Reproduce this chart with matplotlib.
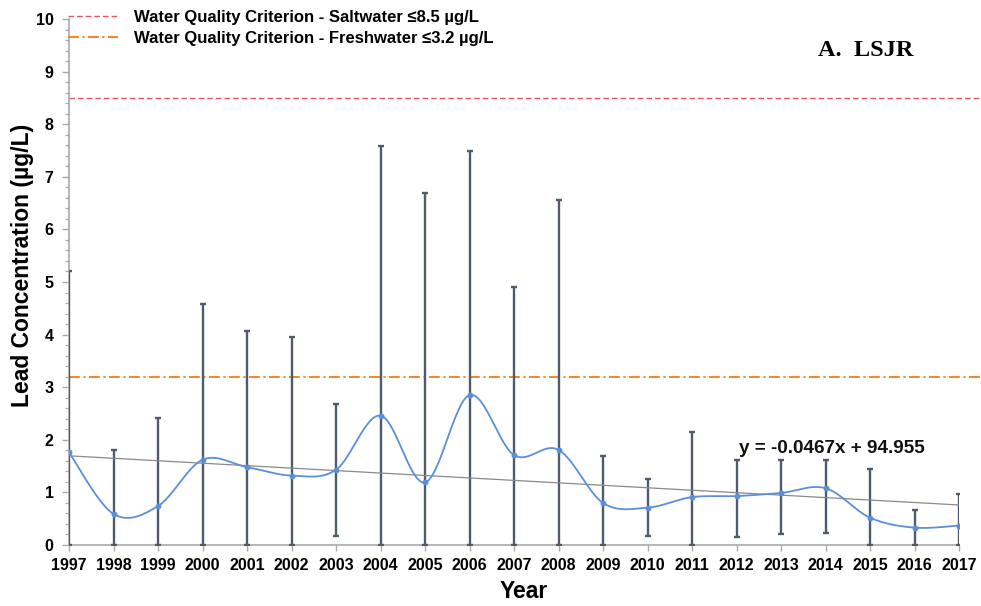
import numpy as np
import matplotlib
matplotlib.use("Agg")
import matplotlib.pyplot as plt
from matplotlib.ticker import MultipleLocator

plt.rcParams['font.family'] = ['Liberation Sans', 'DejaVu Sans']

# Annual mean lead concentration (µg/L) with min/max range
years = list(range(1997, 2018))
mean_pb = [1.76, 0.59, 0.74, 1.62, 1.48, 1.32, 1.43, 2.46, 1.19, 2.85, 1.71,
           1.81, 0.80, 0.71, 0.91, 0.93, 0.99, 1.08, 0.52, 0.33, 0.37]
low_pb = [0.0, 0.0, 0.0, 0.0, 0.0, 0.0, 0.165, 0.0, 0.0, 0.0, 0.0,
          0.0, 0.0, 0.17, 0.0, 0.15, 0.21, 0.22, 0.0, 0.0, 0.0]
high_pb = [5.2, 1.80, 2.42, 4.58, 4.07, 3.96, 2.69, 7.58, 6.69, 7.50, 4.90,
           6.56, 1.69, 1.26, 2.14, 1.62, 1.62, 1.62, 1.44, 0.66, 0.975]

# Linear trend reported for the series
trend_slope = -0.0467
trend_intercept = 94.955
trend_label = "y = -0.0467x + 94.955"

# Water quality criteria (µg/L)
saltwater_limit = 8.5
freshwater_limit = 3.2
saltwater_label = "Water Quality Criterion - Saltwater \u22648.5 \u00b5g/L"
freshwater_label = "Water Quality Criterion - Freshwater \u22643.2 \u00b5g/L"
panel_title = "A.  LSJR"


def smooth_curve(x, y, n=30):
    """Cardinal (Catmull-Rom) spline through the points, like a smoothed line chart."""
    x = np.asarray(x, float)
    y = np.asarray(y, float)
    px = np.concatenate([[x[0]], x, [x[-1]]])
    py = np.concatenate([[y[0]], y, [y[-1]]])
    xs, ys = [], []
    t = np.linspace(0, 1, n)
    for i in range(1, len(px) - 2):
        p0, p1, p2, p3 = (np.array([px[j], py[j]]) for j in (i - 1, i, i + 1, i + 2))
        c1 = p1 + (p2 - p0) / 6.0
        c2 = p2 - (p3 - p1) / 6.0
        b = ((1 - t) ** 3)[:, None] * p1 + (3 * (1 - t) ** 2 * t)[:, None] * c1 \
            + (3 * (1 - t) * t ** 2)[:, None] * c2 + (t ** 3)[:, None] * p2
        xs.append(b[:, 0])
        ys.append(b[:, 1])
    return np.concatenate(xs), np.concatenate(ys)


fig = plt.figure(figsize=(9.81, 6.06), dpi=100)
ax = fig.add_axes([69 / 981, 1 - 545 / 606, (959 - 69) / 981, (545 - 19) / 606])

yrs = np.array(years, float)
mean_arr = np.array(mean_pb)
yerr = np.vstack([mean_arr - np.array(low_pb), np.array(high_pb) - mean_arr])

# Range bars (drawn above the spines so the first one shows on the axis)
ax.errorbar(yrs, mean_arr, yerr=yerr, fmt='none', ecolor='#4f5b6b',
            elinewidth=1.7, capsize=2, capthick=1.7, zorder=3)

# Trend line
tx = np.array([years[0], years[-1]], float)
ax.plot(tx, trend_slope * tx + trend_intercept, color='#8a8a8a', lw=0.9, zorder=3.2)

# Smoothed mean line with markers
sx, sy = smooth_curve(yrs, mean_arr)
ax.plot(sx, sy, color='#5b8fd8', lw=1.3, zorder=4)
ax.plot(yrs, mean_arr, 'o', color='#5b8fd8', ms=3.2, zorder=5)

# Criterion lines
ax.axhline(saltwater_limit, xmin=0, xmax=1.025, color='#e4585d', lw=1.0,
           dashes=(4, 2.2), clip_on=False, label=saltwater_label, zorder=1)
ax.axhline(freshwater_limit, xmin=0, xmax=1.025, color='#f08a2c', lw=1.5,
           dashes=(5.2, 1.7, 1.0, 1.7), clip_on=False, label=freshwater_label, zorder=1)

ax.text(yrs[0] + 15.05, 1.84, trend_label, fontsize=13.6, fontweight='bold',
        va='center', ha='left', color='#111111')

fig.text(913 / 981, 1 - 51 / 606, panel_title, fontsize=17.5, fontweight='bold',
         family=['Liberation Serif', 'DejaVu Serif'], ha='right', va='center')

leg = ax.legend(loc='upper left', bbox_to_anchor=(56 / 981, 1 + 2 / 606),
                bbox_transform=fig.transFigure, frameon=False,
                prop={'weight': 'bold', 'size': 12}, handlelength=3.05,
                handletextpad=0.95, labelspacing=0.35, borderpad=0.2)

ax.set_xlim(years[0], years[-1])
ax.set_ylim(0, 10)
ax.set_xticks(years)
ax.set_xticklabels([str(y) for y in years])
ax.yaxis.set_major_locator(MultipleLocator(1))
ax.yaxis.set_minor_locator(MultipleLocator(0.2))

for s in ('top', 'right'):
    ax.spines[s].set_visible(False)
for s in ('left', 'bottom'):
    ax.spines[s].set_color('#a9a9a9')
    ax.spines[s].set_linewidth(1.2)

ax.tick_params(axis='both', which='major', direction='out', color='#a9a9a9',
               width=1.0, labelsize=11.5)
ax.tick_params(axis='y', which='major', length=5, pad=6)
ax.tick_params(axis='y', which='minor', direction='out', length=3,
               color='#a9a9a9', width=0.9)
ax.tick_params(axis='x', which='major', length=4, pad=5)
for lbl in ax.get_xticklabels() + ax.get_yticklabels():
    lbl.set_fontweight('bold')

ax.set_xlabel("Year", fontsize=16.5, fontweight='bold')
ax.set_ylabel("Lead Concentration (\u00b5g/L)", fontsize=16.5, fontweight='bold')
ax.xaxis.set_label_coords((524 - 69) / 890, (545 - 580) / 526)
ax.yaxis.set_label_coords((34 - 69) / 890, (545 - 265) / 526)

fig.savefig("out.png", dpi=100)
